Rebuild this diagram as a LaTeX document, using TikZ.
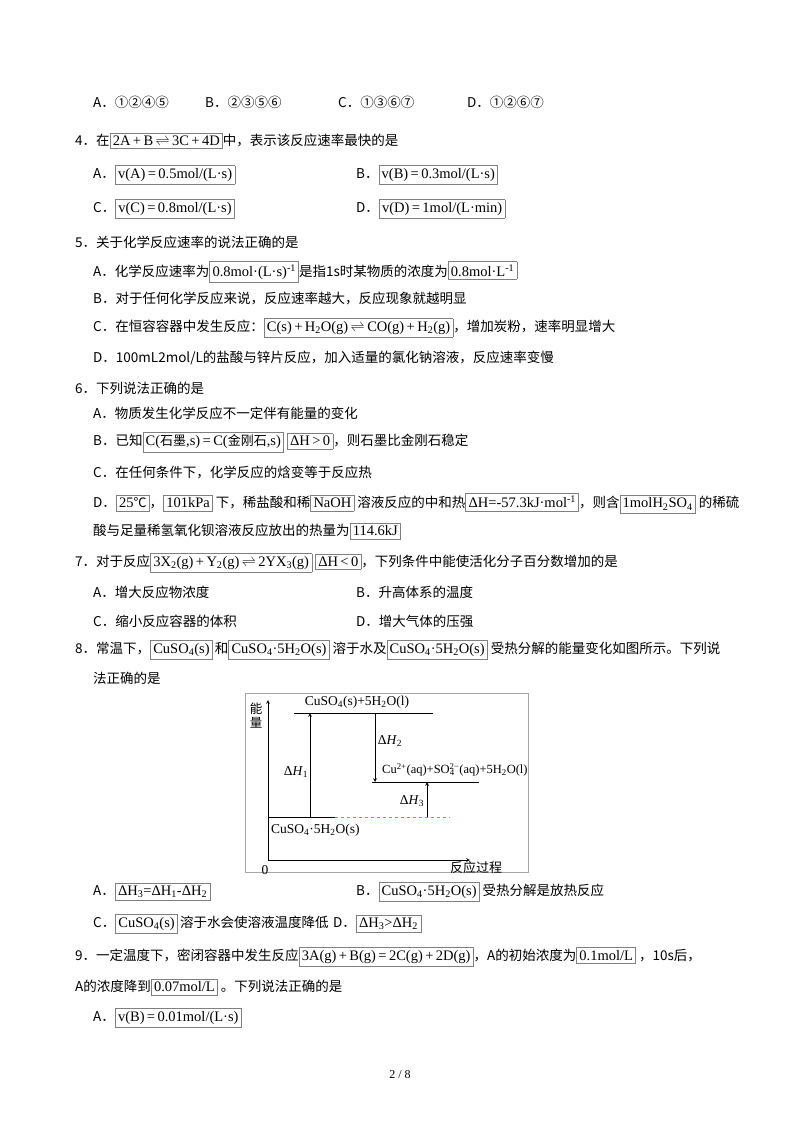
\documentclass[tikz,border=0pt]{standalone}
\usepackage{fontspec}
\setmainfont{Noto Sans CJK SC}
\newfontfamily\lt{Liberation Serif}
\newfontfamily\cj{Noto Sans CJK SC}
\newcommand{\bx}[1]{{\setlength{\fboxsep}{2.5pt}\setlength{\fboxrule}{0.6pt}\fcolorbox{gray}{white}{\lt\fontsize{14.5}{16}\selectfont #1}}}
\newcommand{\sub}[1]{\textsubscript{#1}}
\newcommand{\sups}[1]{\textsuperscript{#1}}
\newcommand{\eqm}{\,$\rightleftharpoons$\,}
\begin{document}
\begin{tikzpicture}[x=1pt,y=-1pt,
  ln/.style={anchor=west,inner sep=0pt,font=\fontsize{13.5}{16}\selectfont},
  dl/.style={inner sep=1pt,font=\lt\fontsize{13.5}{15}\selectfont},
  ax/.style={->,>=stealth,line width=0.7pt}]
\useasboundingbox[fill=white] (0,0) rectangle (800,1132);
\node[ln] (l1a) at (93,102) {A．①②④⑤};
\node[ln] (l1b) at (205,102) {B．②③⑤⑥};
\node[ln] (l1c) at (338,102) {C．①③⑥⑦};
\node[ln] (l1d) at (467,102) {D．①②⑥⑦};
\node[ln] (q4) at (75,141) {4．在\bx{2A\,+\,B\eqm 3C\,+\,4D}中，表示该反应速率最快的是};
\node[ln] (q4a) at (93,175) {A．\bx{v(A)\,=\,0.5mol/(L·s)}};
\node[ln] (q4b) at (356,175) {B．\bx{v(B)\,=\,0.3mol/(L·s)}};
\node[ln] (q4c) at (93,209) {C．\bx{v(C)\,=\,0.8mol/(L·s)}};
\node[ln] (q4d) at (356,209) {D．\bx{v(D)\,=\,1mol/(L·min)}};
\node[ln] (q5) at (75,242) {5．关于化学反应速率的说法正确的是};
\node[ln] (q5a) at (93,272) {A．化学反应速率为\bx{0.8mol·(L·s)\sups{-1}}是指1s时某物质的浓度为\bx{0.8mol·L\sups{-1}}};
\node[ln] (q5b) at (93,298) {B．对于任何化学反应来说，反应速率越大，反应现象就越明显};
\node[ln] (q5c) at (93,328) {C．在恒容容器中发生反应：\bx{C(s)\,+\,H\sub{2}O(g)\eqm CO(g)\,+\,H\sub{2}(g)}，增加炭粉，速率明显增大};
\node[ln] (q5d) at (93,358) {D．100mL2mol/L的盐酸与锌片反应，加入适量的氯化钠溶液，反应速率变慢};
\node[ln] (q6) at (75,388) {6．下列说法正确的是};
\node[ln] (q6a) at (93,413) {A．物质发生化学反应不一定伴有能量的变化};
\node[ln] (q6b) at (93,442) {B．已知\bx{C({\cj\fontsize{13}{14}\selectfont 石墨},s)\,=\,C({\cj\fontsize{13}{14}\selectfont 金刚石},s)}\ \bx{ΔH\,>\,0}，则石墨比金刚石稳定};
\node[ln] (q6c) at (93,472) {C．在任何条件下，化学反应的焓变等于反应热};
\node[ln] (q6d) at (93,503) {D．\bx{25{\cj\fontsize{13}{14}\selectfont ℃}}，\bx{101kPa} 下，稀盐酸和稀\bx{NaOH}\ 溶液反应的中和热\bx{ΔH=-57.3kJ·mol\sups{-1}}，则含\bx{1molH\sub{2}SO\sub{4}}\ 的稀硫};
\node[ln] (q6d2) at (93,531) {酸与足量稀氢氧化钡溶液反应放出的热量为\bx{114.6kJ}};
\node[ln] (q7) at (75,563) {7．对于反应\bx{3X\sub{2}(g)\,+\,Y\sub{2}(g)\eqm 2YX\sub{3}(g)}\ \bx{ΔH\,<\,0}，下列条件中能使活化分子百分数增加的是};
\node[ln] (q7a) at (93,592) {A．增大反应物浓度};
\node[ln] (q7b) at (356,592) {B．升高体系的温度};
\node[ln] (q7c) at (93,621) {C．缩小反应容器的体积};
\node[ln] (q7d) at (356,621) {D．增大气体的压强};
\node[ln] (q8) at (75,650) {8．常温下，\bx{CuSO\sub{4}(s)}\,和\bx{CuSO\sub{4}·5H\sub{2}O(s)}\ 溶于水及\bx{CuSO\sub{4}·5H\sub{2}O(s)}\ 受热分解的能量变化如图所示。下列说};
\node[ln] (q8b) at (93,678) {法正确的是};
% diagram
\draw[gray!70,line width=0.8pt] (245,693) rectangle (528,872);
\coordinate (o) at (268,860);
\draw[ax] (o) -- (268,700);
\draw[ax] (o) -- (470,860);
\node[dl,font=\cj\fontsize{12.5}{14}\selectfont,align=center] (en) at (256,716) {能\\量};
\node[dl] (zero) at (265,870) {0};
\node[dl,font=\cj\fontsize{13}{14}\selectfont] (proc) at (476,868) {反应过程};
\draw[line width=0.7pt] (294,713) -- (433,713);
\node[dl] (top) at (357,702) {CuSO\sub{4}(s)+5H\sub{2}O(l)};
\draw[line width=0.7pt] (372,782) -- (479,782);
\node[dl,anchor=west,font=\lt\fontsize{12.5}{14}\selectfont] (mid) at (381,770) {Cu\sups{2+}(aq)+SO\sub{4}\kern-0.4em\sups{2−}(aq)+5H\sub{2}O(l)};
\draw[line width=0.7pt] (268,817) -- (335,817);
\draw[cyan!70!gray,dashed,line width=0.6pt] (335,817) -- (450,817);
\node[dl,anchor=west] (bot) at (270,830) {CuSO\sub{4}·5H\sub{2}O(s)};
\draw[ax] (310,817) -- (310,713);
\node[dl] (h1) at (296,772) {Δ\textit{H}\sub{1}};
\draw[ax] (375,713) -- (375,782);
\node[dl] (h2) at (390,741) {Δ\textit{H}\sub{2}};
\draw[ax] (427,817) -- (427,782);
\node[dl] (h3) at (412,801) {Δ\textit{H}\sub{3}};
% answers
\node[ln] (q8A) at (93,892) {A．\bx{ΔH\sub{3}=ΔH\sub{1}-ΔH\sub{2}}};
\node[ln] (q8B) at (356,892) {B．\bx{CuSO\sub{4}·5H\sub{2}O(s)}\ 受热分解是放热反应};
\node[ln] (q8C) at (93,924) {C．\bx{CuSO\sub{4}(s)}\,溶于水会使溶液温度降低};
\node[ln] (q8D) at (333,924) {D．\bx{ΔH\sub{3}>ΔH\sub{2}}};
\node[ln] (q9) at (75,957) {9．一定温度下，密闭容器中发生反应\bx{3A(g)\,+\,B(g)\,=\,2C(g)\,+\,2D(g)}，A的初始浓度为\bx{0.1mol/L}\ ，10s后，};
\node[ln] (q9b) at (75,987) {A的浓度降到\bx{0.07mol/L}\ 。下列说法正确的是};
\node[ln] (q9A) at (93,1018) {A．\bx{v(B)\,=\,0.01mol/(L·s)}};
\node[inner sep=0pt,font=\lt\fontsize{12}{14}\selectfont] (pg) at (400,1075) {2 / 8};
\end{tikzpicture}
\end{document}
